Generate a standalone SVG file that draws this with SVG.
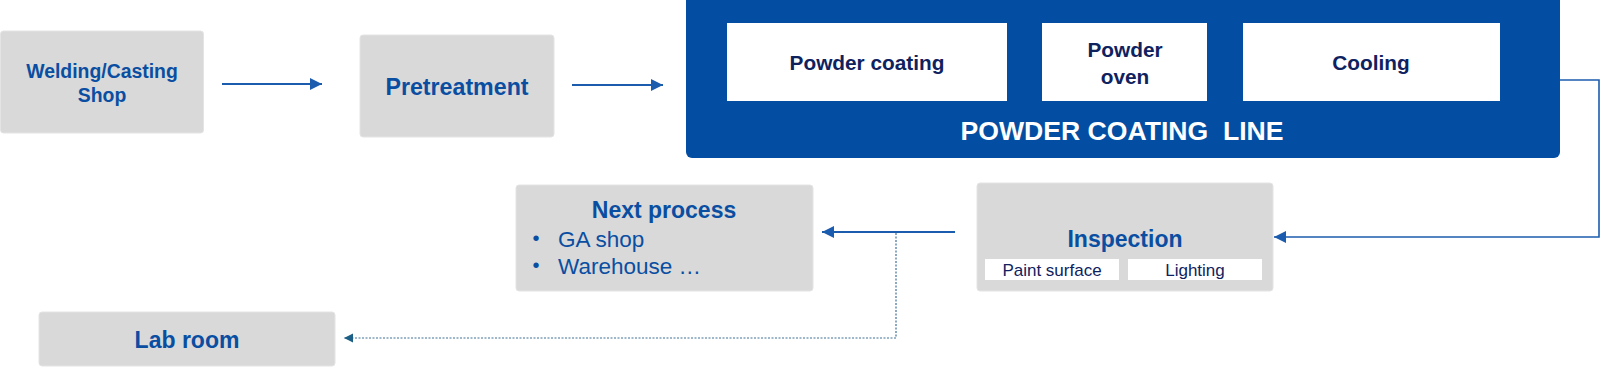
<svg xmlns="http://www.w3.org/2000/svg" width="1600" height="367" viewBox="0 0 1600 367">
<defs>
<style>
.gbox{fill:#d9d9d9;stroke:#e4e4e4;stroke-width:1}
.wbox{fill:#ffffff}
.t{font-family:"Liberation Sans",Arial,sans-serif;fill:#0a4ea2;text-anchor:middle}
.s{text-anchor:start}
.b{font-weight:bold}
.nv{font-family:"Liberation Sans",Arial,sans-serif;fill:#0f2260;text-anchor:middle}
.wt{font-family:"Liberation Sans",Arial,sans-serif;fill:#ffffff;font-weight:bold;text-anchor:middle;white-space:pre}
.con{fill:none;stroke:#1c5caf;stroke-width:2}
.thin{fill:none;stroke:#1c5caf;stroke-width:1.6}
.dash{fill:none;stroke:#3e7098;stroke-width:1.2;stroke-dasharray:2 1.5}
</style>
<marker id="ah" markerUnits="userSpaceOnUse" markerWidth="13" markerHeight="13" viewBox="0 0 13 13" refX="12" refY="6.5" orient="auto">
<path d="M0,0.5 L12,6.5 L0,12.5 Z" fill="#1c5caf"/>
</marker>
<marker id="ahd" markerUnits="userSpaceOnUse" markerWidth="10" markerHeight="10" viewBox="0 0 10 10" refX="9" refY="5" orient="auto">
<path d="M0,0.5 L9,5 L0,9.5 Z" fill="#1b5e86"/>
</marker>
</defs>
<rect width="1600" height="367" fill="#ffffff"/>

<g id="welding">
<rect class="gbox" x="0.5" y="31" width="203" height="102" rx="3"/>
<text class="t b" x="102" y="78" font-size="19.4">Welding/Casting</text>
<text class="t b" x="102" y="102" font-size="19.4">Shop</text>
</g>

<g id="pretreatment">
<rect class="gbox" x="360" y="35" width="194" height="102" rx="3"/>
<text class="t b" x="457" y="95" font-size="23.2">Pretreatment</text>
</g>

<g id="powder-line">
<rect x="686" y="-8" width="874" height="166" rx="6" fill="#034ea2"/>
<g id="powder-coating">
<rect class="wbox" x="727" y="23" width="280" height="78"/>
<text class="nv b" x="867" y="70" font-size="20.8">Powder coating</text>
</g>
<g id="powder-oven">
<rect class="wbox" x="1042" y="23" width="165" height="78"/>
<text class="nv b" x="1125" y="57" font-size="20.8">Powder</text>
<text class="nv b" x="1125" y="84" font-size="20.8">oven</text>
</g>
<g id="cooling">
<rect class="wbox" x="1243" y="23" width="257" height="78"/>
<text class="nv b" x="1371" y="70" font-size="20.8">Cooling</text>
</g>
<text class="wt" x="1122" y="140" font-size="26.6">POWDER COATING  LINE</text>
</g>

<g id="inspection">
<rect class="gbox" x="977" y="183" width="296" height="108" rx="3"/>
<text class="t b" x="1125" y="247" font-size="23">Inspection</text>
<rect class="wbox" x="985" y="259" width="134" height="21"/>
<text class="nv" x="1052" y="276" font-size="17">Paint surface</text>
<rect class="wbox" x="1128" y="259" width="134" height="21"/>
<text class="nv" x="1195" y="276" font-size="17">Lighting</text>
</g>

<g id="next-process">
<rect class="gbox" x="516" y="185" width="297" height="106" rx="3"/>
<text class="t b" x="664" y="218" font-size="23">Next process</text>
<text class="t" x="536" y="245" font-size="20">•</text>
<text class="t s" x="558" y="247" font-size="22.5">GA shop</text>
<text class="t" x="536" y="272" font-size="20">•</text>
<text class="t s" x="558" y="274" font-size="22.5">Warehouse …</text>
</g>

<g id="lab-room">
<rect class="gbox" x="39" y="312" width="296" height="54" rx="3"/>
<text class="t b" x="187" y="348" font-size="23">Lab room</text>
</g>

<g id="connectors">
<path class="con" d="M222,84 H322" marker-end="url(#ah)"/>
<path class="con" d="M572,85 H663" marker-end="url(#ah)"/>
<path class="thin" d="M1560,80 H1599 V237 H1274" marker-end="url(#ah)"/>
<path class="con" d="M955,232 H822" marker-end="url(#ah)"/>
<path class="dash" d="M896,233 V338 H344" marker-end="url(#ahd)"/>
</g>
</svg>
